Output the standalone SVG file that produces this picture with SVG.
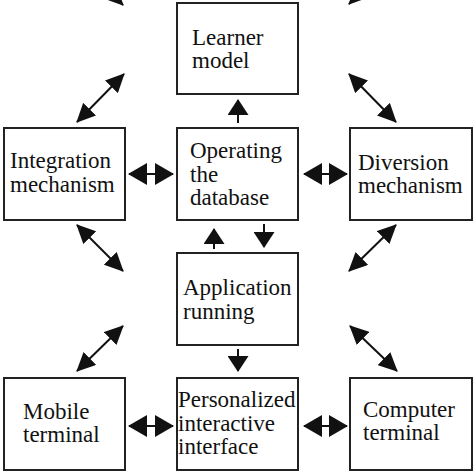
<svg xmlns="http://www.w3.org/2000/svg" width="474" height="474" viewBox="0 0 474 474">
<style>
.box{fill:#fff;stroke:#222;stroke-width:2}
.t{font-family:"Liberation Serif","Times New Roman",serif;font-size:23px;fill:#111}
.c line{stroke:#111;stroke-width:2}
.d{marker-end:url(#ad)}
.dd{marker-start:url(#ad);marker-end:url(#ad)}
.hh{marker-start:url(#ah);marker-end:url(#ah)}
.v{marker-end:url(#av)}
</style>
<defs>
<marker id="ad" markerUnits="userSpaceOnUse" markerWidth="20" markerHeight="18" refX="18" refY="9" orient="auto-start-reverse"><path d="M0,0 L19,9 L0,18 z" fill="#111"/></marker>
<marker id="ah" markerUnits="userSpaceOnUse" markerWidth="20" markerHeight="22" refX="18" refY="11" orient="auto-start-reverse"><path d="M0,0 L19,11 L0,22 z" fill="#111"/></marker>
<marker id="av" markerUnits="userSpaceOnUse" markerWidth="17" markerHeight="21" refX="15" refY="10.5" orient="auto-start-reverse"><path d="M0,0 L16,10.5 L0,21 z" fill="#111"/></marker>
</defs>
<rect width="474" height="474" fill="#fff"/>
<g id="learner"><rect class="box" x="177" y="3" width="121" height="91"/><text class="t" x="192" y="45">Learner</text><text class="t" x="192" y="68">model</text></g>
<g id="integration"><rect class="box" x="4" y="128" width="121" height="92"/><text class="t" x="10" y="168">Integration</text><text class="t" x="10" y="192">mechanism</text></g>
<g id="operating"><rect class="box" x="177" y="128" width="121" height="92"/><text class="t" x="190" y="158">Operating</text><text class="t" x="190" y="182">the</text><text class="t" x="190" y="205">database</text></g>
<g id="diversion"><rect class="box" x="350" y="128" width="122" height="92"/><text class="t" x="358" y="170">Diversion</text><text class="t" x="358" y="193">mechanism</text></g>
<g id="application"><rect class="box" x="177" y="253" width="121" height="92"/><text class="t" x="183" y="295">Application</text><text class="t" x="183" y="319">running</text></g>
<g id="mobile"><rect class="box" x="4" y="378" width="121" height="92"/><text class="t" x="23" y="419">Mobile</text><text class="t" x="23" y="442">terminal</text></g>
<g id="personalized"><rect class="box" x="177" y="378" width="121" height="92"/><text class="t" x="178" y="407">Personalized</text><text class="t" x="178" y="431">interactive</text><text class="t" x="178" y="454">interface</text></g>
<g id="computer"><rect class="box" x="350" y="378" width="122" height="92"/><text class="t" x="363" y="417">Computer</text><text class="t" x="363" y="440">terminal</text></g>
<g id="connectors" class="c">
<line class="d" x1="95" y1="-23" x2="123" y2="5"/>
<line class="d" x1="377" y1="-24" x2="349" y2="4"/>
<line class="dd" x1="124" y1="74" x2="77" y2="122"/>
<line class="dd" x1="349" y1="74" x2="396" y2="122"/>
<line class="v" x1="238" y1="123" x2="238" y2="100"/>
<line class="hh" x1="129" y1="174" x2="173" y2="174"/>
<line class="hh" x1="304" y1="174" x2="347" y2="174"/>
<line class="v" x1="214" y1="249" x2="214" y2="229"/>
<line class="v" x1="264" y1="224" x2="264" y2="247"/>
<line class="dd" x1="77" y1="225" x2="123" y2="271"/>
<line class="dd" x1="396" y1="225" x2="349" y2="271"/>
<line class="dd" x1="123" y1="326" x2="77" y2="371"/>
<line class="dd" x1="350" y1="326" x2="397" y2="371"/>
<line class="v" x1="238" y1="349" x2="238" y2="371"/>
<line class="hh" x1="129" y1="426" x2="173" y2="426"/>
<line class="hh" x1="304" y1="426" x2="347" y2="426"/>
</g>
</svg>
